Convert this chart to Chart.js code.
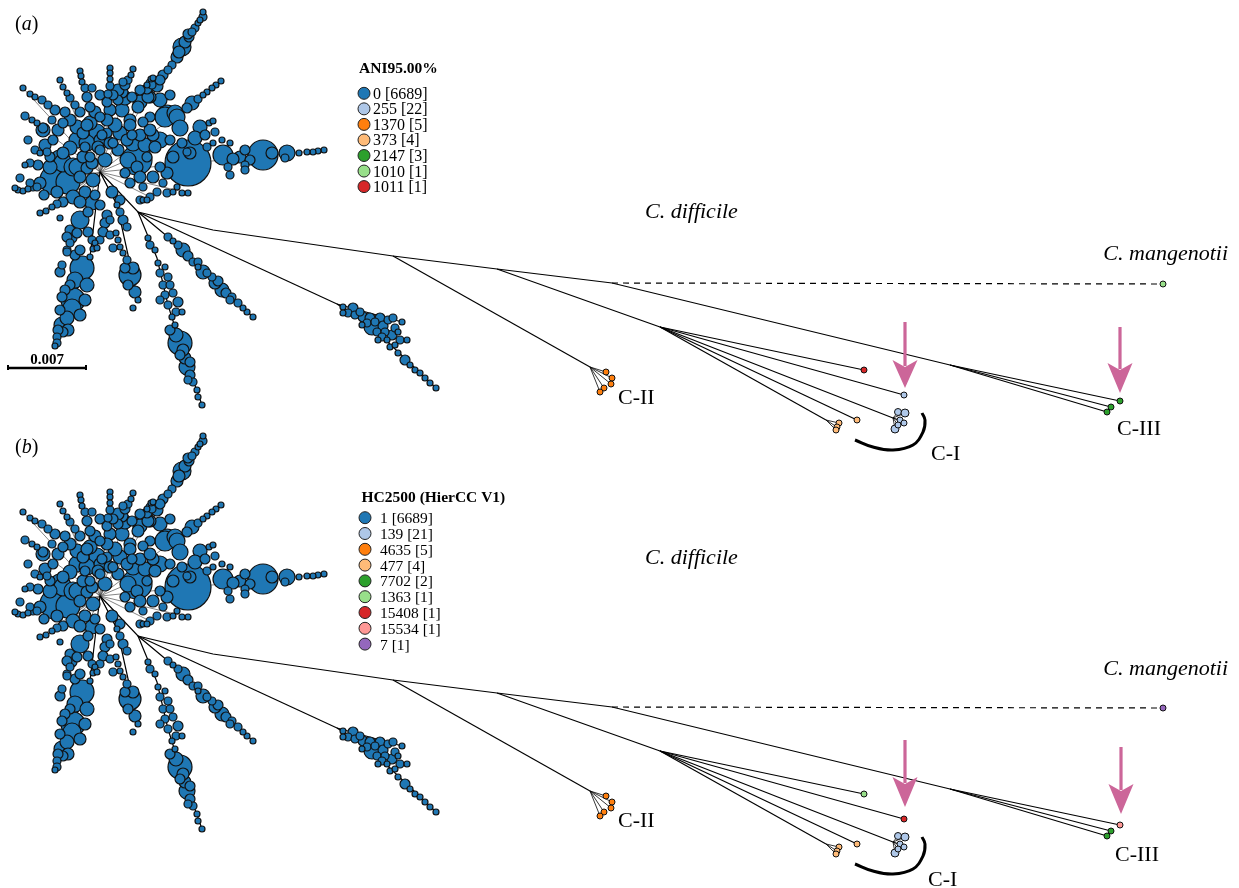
<!DOCTYPE html>
<html><head><meta charset="utf-8">
<script src="https://cdn.jsdelivr.net/npm/chart.js@4"></script>
<style>
html,body{margin:0;padding:0;background:#fff;width:1239px;height:888px;overflow:hidden}
.panel{position:absolute;left:0;width:1239px;height:464px}
#pa{top:0}#pb{top:424px}
canvas{display:block}
</style></head><body>
<div class="panel" id="pa"><canvas id="ca" width="1239" height="464"></canvas></div>
<div class="panel" id="pb"><canvas id="cb" width="1239" height="464"></canvas></div>
<script>
// ---------- tree layout data (shared by both panels) ----------
const hubRoot = [100,172];
const clusterNodes = [
[203,12,3],[203,17,4],[198,23,3],[195,28,4],[192,32,4],[189,37,5],[182,47,9],[177,57,6],[172,65,4],[163,75,5],[157,86,6],[150,97,6],[151,79,3],[147,85,3],
[221,81,3],[216,85,3],[212,88,3],[207,92,3],[203,95,3],[198,99,4],[192,103,7],[187,108,5],[167,115,10],[175,113,8],[200,127,7],[209,123,3],[213,121,3],
[324,150,3],[318,151,3],[313,152,3],[307,152,3],[299,153,3],[287,153,8],[263,155,15],[240,157,6],[233,159,6],[223,155,10],[230,143,3],[222,140,3],[213,143,3],[207,147,4],
[188,163,23],[182,143,5],[190,153,6],[187,152,4],[173,157,6],[160,167,5],[167,173,6],[147,157,5],[137,160,15],[155,147,6],[133,143,8],[140,135,6],
[140,102,7],[132,97,5],[122,110,7],[110,110,6],[100,117,5],[90,123,7],[97,132,8],[83,133,6],[77,140,8],[85,147,5],[100,140,6],[107,133,5],[120,133,7],[130,120,6],[127,140,6],[113,143,5],[100,150,5],[90,157,5],[63,153,6],[53,140,5],[43,130,7],
[23,88,3],[30,94,3],[35,97,3],[42,100,4],[48,105,4],[55,110,5],
[25,116,4],[32,120,3],[37,123,3],[43,128,5],
[60,80,3],[63,87,3],[67,93,3],[70,98,4],[75,105,4],[80,112,5],
[80,71,3],[81,76,3],[82,82,3],[85,88,4],[87,97,5],[90,107,5],
[110,68,3],[110,73,3],[110,79,3],[110,86,4],[108,94,4],[107,102,5],
[133,69,3],[131,75,3],[128,80,4],[125,85,5],[122,92,6],
[153,78,3],[150,83,4],[147,89,5],
[18,190,3],[23,191,3],[28,189,3],[33,187,4],[40,183,6],
[55,180,15],[68,182,12],[50,167,7],[38,165,5],[30,163,4],[25,165,3],[63,163,9],[77,167,8],[83,157,6],[47,152,4],[40,153,3],
[73,197,7],[85,192,6],[93,180,7],[87,168,6],[80,202,6],
[40,213,3],[46,211,3],[52,207,3],[57,204,4],[63,202,5],
[80,220,9],[92,203,7],[100,205,5],[70,230,5],[72,238,5],[67,250,4],[77,233,5],[60,218,3],
[82,268,12],[87,285,7],[73,300,12],[70,285,5],[65,290,5],[62,297,5],[72,308,9],[67,318,7],[62,325,8],[63,332,5],[58,330,5],[57,337,4],[57,343,4],[55,346,3],[90,257,3],[93,249,3],[95,243,3],[67,237,5],[70,243,4],[67,252,4],
[130,275,11],[135,292,6],[138,300,3],[127,260,4],[123,253,3],[120,247,3],[118,240,3],[116,233,3],[127,227,4],[123,220,5],[120,212,4],[117,205,3],
[107,215,5],[105,223,5],[103,232,5],[100,240,4],[97,248,3],[110,235,4],
[180,343,12],[185,358,6],[187,367,8],[190,375,5],[193,382,4],[197,390,3],[198,397,3],[202,405,3],[175,325,3],[172,317,3],[168,305,4],[165,295,4],[178,302,5],[173,293,4],[163,285,4],[168,277,4],[160,273,4],[165,267,3],[158,263,3],[182,312,3],
[168,237,4],[173,241,3],[183,250,7],[193,262,4],[203,272,7],[212,277,4],[222,290,7],[226,293,5],[232,297,4],[238,303,4],[247,312,3],[253,317,3],[198,267,3],[207,273,4],
[125,173,5],[137,167,6],[140,177,6],[130,183,5],[143,187,4],[153,177,6],[163,183,4],[177,187,3],[150,197,4],[143,200,3],[157,192,4],[167,193,4],[188,193,3],[182,193,3],[173,192,3],[140,200,4],[147,200,3],
[60,160,10],[73,167,9],[87,143,8],[98,147,6],[77,127,7],[63,123,5],[87,125,6],[102,135,5],[110,143,6],[107,120,6],[92,163,6],[80,177,6],[30,183,4],[37,187,4],
[123,82,4],[118,90,6],[125,98,7],[138,107,6],[148,97,6],[152,85,4],[165,117,10],[150,117,5],[143,122,5],[130,125,6],[132,135,5],[153,135,6],[177,117,8],[128,160,8],
[45,145,6],[58,130,6],[70,120,6],[95,112,6],[115,125,7],[105,160,7],[118,150,6],[70,148,7],[50,157,5],[35,150,4],[28,140,4],[20,178,4],[15,188,3],[44,195,5],[57,192,6],
[100,95,5],[92,88,4],[118,100,5],[140,90,5],[160,100,7],[170,95,5],[180,128,8],[195,138,7],[205,135,5],[215,132,4],[160,140,8],[145,145,7],[170,140,5],[113,95,5],[65,112,5],[52,120,4],[150,130,6],
[230,175,4],[245,165,4],[112,192,6],[120,200,5],[95,195,5],[88,212,5],[110,220,4],[113,248,4],[88,232,5],[92,240,4],[75,255,5],[80,250,5],[62,265,4],[60,272,5],[75,280,8],[85,300,6],[80,315,6],[68,330,6],[60,310,5],
[150,245,4],[148,238,3],[155,250,3],[160,300,4],[170,285,4],[176,312,4],[170,330,5],[176,335,7],[183,350,6],[190,362,5],[180,355,5],[188,380,4],
[133,268,6],[125,268,5],[128,285,5],[133,308,3],
[178,245,4],[188,256,5],[198,262,4],[215,283,6],[218,281,5],[230,300,4],[243,308,3],
[185,42,6],[179,52,6],[168,70,4],[160,80,5],[200,20,3],[188,34,5],
[245,150,5],[250,160,5],[272,153,6],[285,158,4],[245,170,4],[228,167,4]
];
const subClusterNodes = [
[343,307,3],[353,308,5],[348,313,4],[343,313,3],[363,317,5],[367,323,4],[372,327,8],[377,332,4],[380,318,5],[388,320,4],[393,318,4],[402,322,3],
[385,332,4],[392,335,5],[400,340,4],[407,340,3],[382,337,4],[387,340,3],[390,347,3],[398,353,3],[405,360,5],[410,365,3],[415,370,3],[420,373,3],[425,378,3],[430,383,3],[436,388,3],
[355,315,4],[360,312,4],[370,318,5],[375,322,4],[383,326,5],[395,328,4],[398,332,3],[378,340,3],[395,345,3],[362,325,3]
];
const hubSpokes = [[203,12],[221,81],[324,150],[23,88],[25,116],[60,80],[80,71],[110,68],[133,69],[153,78],[18,190],[40,213],[67,250],[117,205],[63,202],[128,160],[150,197],[188,193]];
const branchPaths = [
  [[100,172],[138,212],[213,230],[393,256],[497,269],[612,283],[950,365]],
  [[138,212],[337,304]],
  [[337,304],[372,327],[436,388]],
  [[337,304],[402,322]],
  [[138,212],[157,258],[168,305],[180,343],[202,405]],
  [[138,212],[168,237],[253,317]],
  [[100,172],[117,205],[138,300]],
  [[100,172],[90,257],[55,346]],
  [[393,256],[590,367]],
  [[497,269],[660,327]],
  [[660,327],[893,418]],
  [[660,327],[826,420]]
];
// tips: x, y, r, hub they hang from
const tipNodes = [
[606,372,3,'cII'],[612,378,3,'cII'],[611,384,3,'cII'],[604,388,3,'cII'],[600,392,3,'cII'],
[864,370,3,'cI'],[904,395,3,'cI'],
[898,412,3.5,'cIc'],[905,413,4,'cIc'],[900,420,3,'cIc'],[904,423,3,'cIc'],[895,429,4,'cIc'],[898,425,3,'cIc'],
[857,420,3,'cI'],
[839,423,3,'lo'],[837,427,3,'lo'],[836,430,3,'lo'],
[1120,401,3,'cIII'],[1111,407,3,'cIII'],[1107,412,3,'cIII'],
[1163,284,3,'out']
];
const tipHubs = {cII:[590,367], cI:[660,327], cIc:[893,418], lo:[826,420], cIII:[950,365], out:[612,283]};
const cIArc = [[855,440],[873,447],[893,450],[913,445],[923,432],[925,420],[922,413]];
const scaleBar = [[8,368],[86,368]];
const scaleBarLabel = '0.007';

// ---------- panel (a) ----------
const legendATitle = 'ANI95.00%';
const legendALabels = ['0 [6689]','255 [22]','1370 [5]','373 [4]','2147 [3]','1010 [1]','1011 [1]'];
const legendAColors = ['#1f77b4','#aec7e8','#ff7f0e','#ffbb78','#2ca02c','#98df8a','#d62728'];
const tipGroupA = [2,2,2,2,2, 6,1, 1,1,1,1,1,1, 3, 3,3,3, 4,4,4, 5];
const arrowsA = [[905,322,360,388],[1120,327,363,393]];
// ---------- panel (b) ----------
const legendBTitle = 'HC2500 (HierCC V1)';
const legendBLabels = ['1 [6689]','139 [21]','4635 [5]','477 [4]','7702 [2]','1363 [1]','15408 [1]','15534 [1]','7 [1]'];
const legendBColors = ['#1f77b4','#aec7e8','#ff7f0e','#ffbb78','#2ca02c','#98df8a','#d62728','#ff9896','#9467bd'];
const tipGroupB = [2,2,2,2,2, 5,6, 1,1,1,1,1,1, 3, 3,3,3, 7,4,4, 8];
const arrowsB = [[905,316,353,383],[1121,323,360,390]];

const FONT = '"Liberation Serif","Times New Roman",serif';
const ARROW_COLOR = '#cc6699';

const panelA = {
  canvas:'ca', tipGroup:tipGroupA, colors:legendAColors, arrows:arrowsA, showScale:true,
  legend:{title:legendATitle, labels:legendALabels, colors:legendAColors, tx:359, ty:72.7, cx:364, tx2:373, y0:93.3, dy:15.55, size:16, tsize:15.5},
  texts:[
    {segs:[['(',''],['a','italic'],[')','']], x:15, y:30, size:20},
    {segs:[['C. difficile','italic']], x:645, y:218, size:22},
    {segs:[['C. mangenotii','italic']], x:1228, y:260, size:22, align:'right'},
    {segs:[['C-II','']], x:618, y:404, size:22},
    {segs:[['C-III','']], x:1117, y:435, size:22},
    {segs:[['C-I','']], x:931, y:460, size:22},
    {segs:[[scaleBarLabel,'bold']], x:47, y:364, size:15, align:'center'}
  ]
};
const panelB = {
  canvas:'cb', tipGroup:tipGroupB, colors:legendBColors, arrows:arrowsB, showScale:false,
  legend:{title:legendBTitle, labels:legendBLabels, colors:legendBColors, tx:361.5, ty:77.7, cx:365, tx2:380, y0:93.7, dy:15.8, size:15.5, tsize:15.5},
  texts:[
    {segs:[['(',''],['b','italic'],[')','']], x:15, y:28.5, size:20},
    {segs:[['C. difficile','italic']], x:645, y:140, size:22},
    {segs:[['C. mangenotii','italic']], x:1228, y:251, size:22, align:'right'},
    {segs:[['C-II','']], x:618, y:403, size:22},
    {segs:[['C-III','']], x:1115, y:437, size:22},
    {segs:[['C-I','']], x:928, y:462, size:22}
  ]
};

const pts = arr => arr.map(([x,y]) => ({x, y}));

function makePlugin(p) {
  return {
    id:'annot_'+p.canvas,
    afterDatasetsDraw(chart) {
      const ctx = chart.ctx, sx = chart.scales.x, sy = chart.scales.y;
      const px = v => sx.getPixelForValue(v), py = v => sy.getPixelForValue(v);
      ctx.save();
      // arrows
      p.arrows.forEach(([x, yTop, yHead, yTip]) => {
        ctx.strokeStyle = ARROW_COLOR; ctx.fillStyle = ARROW_COLOR; ctx.lineWidth = 3.2;
        ctx.beginPath(); ctx.moveTo(px(x), py(yTop)); ctx.lineTo(px(x), py(yHead + 6)); ctx.stroke();
        ctx.beginPath();
        ctx.moveTo(px(x - 12.5), py(yHead));
        ctx.lineTo(px(x), py(yHead + 7));
        ctx.lineTo(px(x + 12.5), py(yHead));
        ctx.lineTo(px(x), py(yTip));
        ctx.closePath(); ctx.fill();
      });
      // legend
      const L = p.legend;
      ctx.fillStyle = '#000'; ctx.textBaseline = 'alphabetic'; ctx.textAlign = 'left';
      ctx.font = `bold ${L.tsize}px ${FONT}`;
      ctx.fillText(L.title, px(L.tx), py(L.ty));
      L.labels.forEach((lab, i) => {
        const cy = L.y0 + i * L.dy;
        ctx.beginPath(); ctx.arc(px(L.cx), py(cy), 6, 0, Math.PI * 2);
        ctx.fillStyle = L.colors[i]; ctx.fill();
        ctx.lineWidth = 1; ctx.strokeStyle = '#222'; ctx.stroke();
        ctx.fillStyle = '#000'; ctx.font = `${L.size}px ${FONT}`;
        ctx.fillText(lab, px(L.tx2), py(cy + 5.5));
      });
      // texts
      p.texts.forEach(t => {
        let w = 0;
        t.segs.forEach(([s, st]) => { ctx.font = `${st} ${t.size}px ${FONT}`; w += ctx.measureText(s).width; });
        let x = px(t.x);
        if (t.align === 'right') x -= w; else if (t.align === 'center') x -= w / 2;
        ctx.textAlign = 'left'; ctx.fillStyle = '#000';
        t.segs.forEach(([s, st]) => { ctx.font = `${st} ${t.size}px ${FONT}`; ctx.fillText(s, x, py(t.y)); x += ctx.measureText(s).width; });
      });
      ctx.restore();
    }
  };
}

function buildChart(p) {
  const ds = [];
  const lineDs = (data, extra) => Object.assign({type:'line', data:pts(data), borderColor:'#000', borderWidth:1.2, pointRadius:0, tension:0, fill:false, clip:false, order:10}, extra || {});
  hubSpokes.forEach(t => ds.push(lineDs([hubRoot, t], {borderColor:'#333', borderWidth:0.6, order:12})));
  branchPaths.forEach(path => ds.push(lineDs(path)));
  tipNodes.forEach(([x, y, r, hub]) => {
    if (hub === 'out') ds.push(lineDs([tipHubs[hub], [x, y]], {borderDash:[6,5], borderWidth:1.2}));
    else ds.push(lineDs([tipHubs[hub], [x, y]], {borderWidth: hub === 'cIc' || hub === 'lo' || hub === 'cII' ? 0.8 : 1.2}));
  });
  ds.push(lineDs(cIArc, {borderWidth:3, tension:0.4, order:5}));
  if (p.showScale) {
    ds.push(lineDs(scaleBar, {borderWidth:2.5}));
    ds.push(lineDs([[scaleBar[0][0], 365], [scaleBar[0][0], 370]], {borderWidth:2}));
    ds.push(lineDs([[scaleBar[1][0], 365], [scaleBar[1][0], 370]], {borderWidth:2}));
  }
  const bub = arr => arr.slice().sort((a, b) => b[2] - a[2]).map(([x, y, r]) => ({x, y, r}));
  ds.push({type:'bubble', data:bub(clusterNodes), backgroundColor:'#1f77b4', borderColor:'#111', borderWidth:1.2, order:1, clip:false});
  ds.push({type:'bubble', data:bub(subClusterNodes), backgroundColor:'#1f77b4', borderColor:'#111', borderWidth:1.2, order:1, clip:false});
  ds.push({type:'bubble', data:tipNodes.map(([x, y, r]) => ({x, y, r})),
    backgroundColor:tipNodes.map((t, i) => p.colors[p.tipGroup[i]]), borderColor:'#111', borderWidth:1, order:0, clip:false});
  return new Chart(document.getElementById(p.canvas), {
    type:'scatter',
    data:{datasets:ds},
    options:{
      responsive:false, animation:false, events:[],
      layout:{padding:0, autoPadding:false},
      scales:{
        x:{type:'linear', min:0, max:1239, display:false},
        y:{type:'linear', min:0, max:464, reverse:true, display:false}
      },
      plugins:{legend:{display:false}, tooltip:{enabled:false}}
    },
    plugins:[makePlugin(p)]
  });
}
buildChart(panelA);
buildChart(panelB);
</script>
</body></html>
